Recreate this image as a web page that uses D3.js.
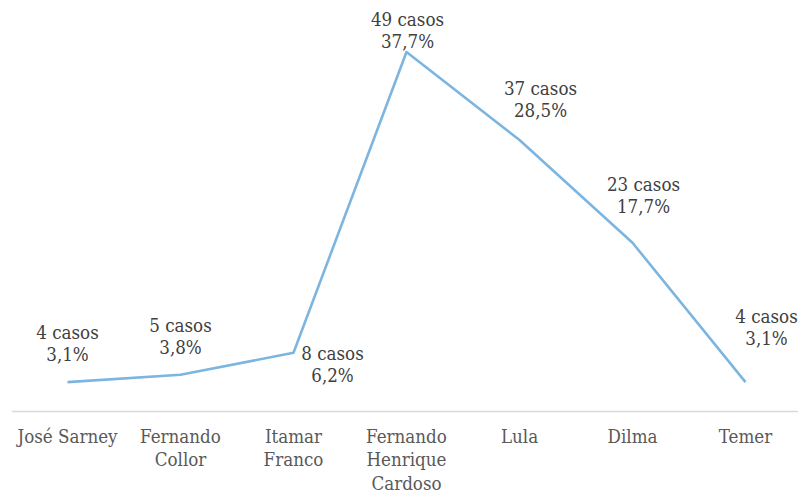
<!DOCTYPE html>
<html>
<head>
<meta charset="utf-8">
<script src="https://cdn.jsdelivr.net/npm/d3@7.9.0/dist/d3.min.js"></script>
<style>
  body { margin: 0; background: #fff; }
  svg text { font-family: 'DejaVu Serif Condensed', 'DejaVu Serif', serif; font-stretch: condensed; }
</style>
</head>
<body>
<svg id="vis"></svg>
<script>
const width = 798;
const height = 491;

// data
const presidents = ["José Sarney", "Fernando Collor", "Itamar Franco", "Fernando Henrique Cardoso", "Lula", "Dilma", "Temer"];
const tickLines = [["José Sarney"], ["Fernando", "Collor"], ["Itamar", "Franco"], ["Fernando", "Henrique", "Cardoso"], ["Lula"], ["Dilma"], ["Temer"]];
const casos = [4, 5, 8, 49, 37, 23, 4];
const percent = ["3,1%", "3,8%", "6,2%", "37,7%", "28,5%", "17,7%", "3,1%"];

// label placement (offset from the point, px)
const labelDx = [0, 0, 39, 1, 21, 11, 21];
const labelDy = [-43, -43, 7, -26, -45, -52, -59];

const fontSize = "18.6px";

const vis = d3.select("#vis")
    .attr("width", width)
    .attr("height", height);

const x = d3.scalePoint()
    .domain(presidents)
    .range([11, 802])
    .padding(0.5);

const y = d3.scaleLinear()
    .domain([0, 49])
    .range([411.5, 52]);

// baseline axis
const xAxis = vis.append("g")
    .attr("transform", `translate(0,${y(0)})`)
    .call(d3.axisBottom(x).tickSize(0).tickFormat(""));
xAxis.select(".domain")
    .attr("d", `M12,0H${width}`)
    .attr("stroke", "#d9d9d9")
    .attr("stroke-width", 1.6);

// tick labels (multi-line)
const ticks = vis.append("g")
    .selectAll("text")
    .data(presidents)
    .join("text")
    .attr("x", d => x(d))
    .attr("y", 443)
    .attr("text-anchor", "middle")
    .attr("fill", "#595959")
    .style("font-size", fontSize);

ticks.selectAll("tspan")
    .data((d, i) => tickLines[i])
    .join("tspan")
    .attr("x", function () { return this.parentNode.getAttribute("x"); })
    .attr("dy", (d, i) => i === 0 ? 0 : 23.3)
    .text(d => d);

// line
const line = d3.line()
    .x((d, i) => x(presidents[i]))
    .y(d => y(d));

vis.append("path")
    .datum(casos)
    .attr("d", line)
    .attr("fill", "none")
    .attr("stroke", "#7cb5e0")
    .attr("stroke-width", 2.6)
    .attr("stroke-linejoin", "round");

// data labels
const labels = vis.append("g")
    .selectAll("text")
    .data(casos)
    .join("text")
    .attr("text-anchor", "middle")
    .attr("fill", "#404040")
    .style("font-size", fontSize);

labels.append("tspan")
    .attr("x", (d, i) => x(presidents[i]) + labelDx[i])
    .attr("y", (d, i) => y(d) + labelDy[i])
    .text(d => `${d} casos`);

labels.append("tspan")
    .attr("x", (d, i) => x(presidents[i]) + labelDx[i])
    .attr("y", (d, i) => y(d) + labelDy[i] + 22)
    .text((d, i) => percent[i]);
</script>
</body>
</html>
